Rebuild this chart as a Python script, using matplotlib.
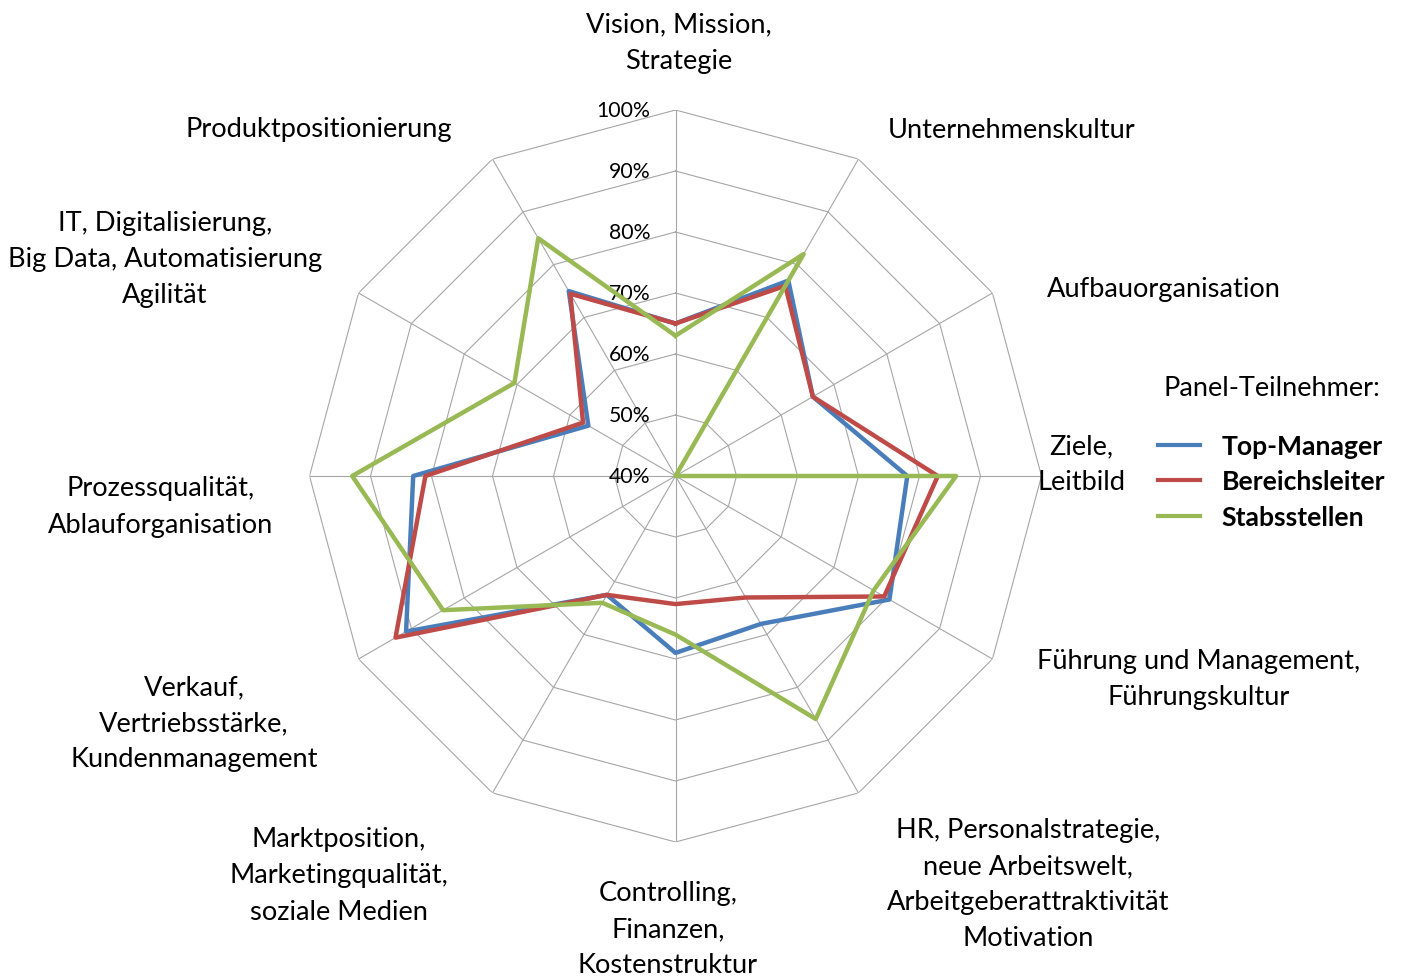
import numpy as np
import matplotlib.pyplot as plt
from matplotlib.lines import Line2D

plt.rcParams['font.family'] = ['Lato', 'DejaVu Sans']

categories = [
    "Vision, Mission,\nStrategie",
    "Unternehmenskultur",
    "Aufbauorganisation",
    "Ziele,\nLeitbild",
    "Führung und Management,\nFührungskultur",
    "HR, Personalstrategie,\nneue Arbeitswelt,\nArbeitgeberattraktivität\nMotivation",
    "Controlling,\nFinanzen,\nKostenstruktur",
    "Marktposition,\nMarketingqualität,\nsoziale Medien",
    "Verkauf,\nVertriebsstärke,\nKundenmanagement",
    "Prozessqualität,\nAblauforganisation",
    "IT, Digitalisierung,\nBig Data, Automatisierung\nAgilität",
    "Produktpositionierung",
]
top_manager = [65, 77, 66, 78, 80.5, 68, 69, 62.5, 91, 83, 56.5, 75]
bereichsleiter = [65, 76, 66, 83, 79.5, 63, 61, 62.5, 93, 81, 57.5, 74.5]
stabsstellen = [63, 82, 40, 86, 77.5, 86, 66, 64, 84, 93, 70.5, 85]
series_names = ["Top-Manager", "Bereichsleiter", "Stabsstellen"]
series_colors = ["#4A7EBB", "#BE4B48", "#98B954"]
rings = [40, 50, 60, 70, 80, 90, 100]

# label centres in pixels of the 1404x978 picture
label_pos = [(679, 43), (1012, 130), (1164, 289), (1081, 465), (1199, 679),
             (1028, 885), (668, 930), (339, 876), (194, 724), (161, 507),
             (165, 260), (319, 129)]

W, H = 1404, 978
fig = plt.figure(figsize=(W / 100, H / 100), dpi=100)
cx, cy, rad = 675.5, 477, 366
ax = fig.add_axes([(cx - rad) / W, (H - cy - rad) / H, 2 * rad / W, 2 * rad / H],
                  projection='polar')
ax.set_theta_zero_location('N')
ax.set_theta_direction(-1)
ax.set_ylim(40, 100)
ax.set_xticks([])
ax.set_yticks([])
ax.grid(False)
ax.spines['polar'].set_visible(False)
ax.patch.set_visible(False)

n = len(categories)
angles = np.arange(n) * 2 * np.pi / n
closed = np.append(angles, angles[0])

grid_col = "#A6A6A6"
for r in rings[1:]:
    ax.plot(closed, [r] * (n + 1), color=grid_col, lw=0.8, zorder=1)
for a in angles:
    ax.plot([a, a], [40, 100], color=grid_col, lw=0.8, zorder=1)

for r in rings:
    ax.annotate(f"{r}%", xy=(0, r), xytext=(-25, 0), textcoords='offset pixels',
                ha='right', va='center', fontsize=15.3, color='black', zorder=2)

handles = []
for vals, name, col in zip([top_manager, bereichsleiter, stabsstellen],
                           series_names, series_colors):
    v = np.append(vals, vals[0])
    ax.plot(closed, v, color=col, lw=3.2, zorder=3, clip_on=False)
    handles.append(Line2D([], [], color=col, lw=3))

for txt, (x, y) in zip(categories, label_pos):
    fig.text(x / W, 1 - y / H, txt, ha='center', va='center',
             multialignment='center', fontsize=19.6, linespacing=1.55)

fig.text(1380 / W, 1 - 388 / H, "Panel-Teilnehmer:", ha='right', va='center', fontsize=19.5)
fig.legend(handles, series_names, loc='upper left',
           bbox_to_anchor=(1158 / W, 1 - 435 / H), frameon=False,
           prop={'weight': 'bold', 'size': 19.1}, handlelength=1.6,
           handletextpad=0.8, labelspacing=0.43, borderpad=0, borderaxespad=0)

fig.savefig("out.png", dpi=100)
